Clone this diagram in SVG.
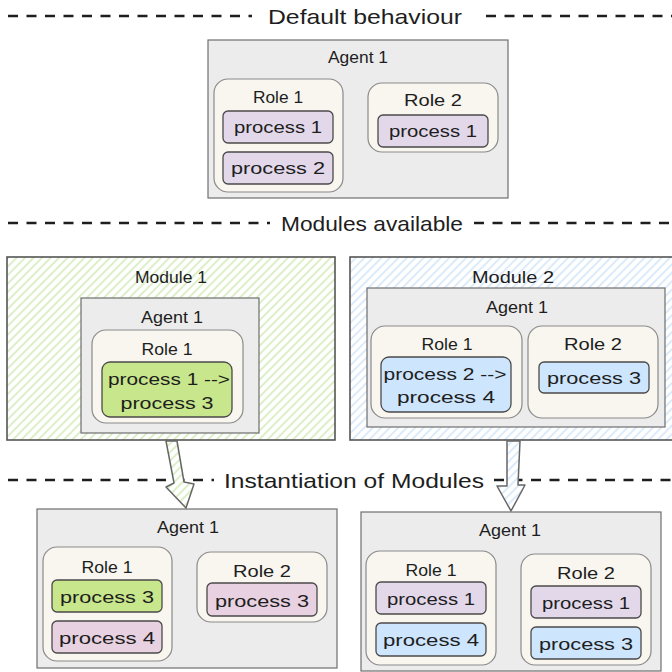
<svg xmlns="http://www.w3.org/2000/svg" width="672" height="672" viewBox="0 0 672 672">
  <defs>
    <pattern id="hatchGreen" patternUnits="userSpaceOnUse" width="6" height="6" patternTransform="rotate(45)">
      <rect width="6" height="6" fill="#ffffff"/>
      <line x1="2" y1="0" x2="2" y2="6" stroke="#dcefc8" stroke-width="2"/>
    </pattern>
    <pattern id="hatchBlue" patternUnits="userSpaceOnUse" width="6" height="6" patternTransform="rotate(45)">
      <rect width="6" height="6" fill="#ffffff"/>
      <line x1="2" y1="0" x2="2" y2="6" stroke="#dcebfa" stroke-width="2"/>
    </pattern>
  </defs>
  <style>
    text { font-family: "Liberation Sans", "Noto Sans", sans-serif; fill: #1e1e1e; text-anchor: middle; dominant-baseline: central; }
    .title { font-size: 21px; }
    .lbl { font-size: 17px; }
    .proc { font-size: 17px; }
    .divider { stroke: #1e1e1e; stroke-width: 2.5; stroke-dasharray: 10 8.5; fill: none; }
    .module { stroke: #555555; stroke-width: 1.6; }
    .agent { fill: #ececec; stroke: #6f6f6f; stroke-width: 1.2; }
    .role { fill: #f8f6ef; stroke: #8a8a8a; stroke-width: 1.2; }
    .p { stroke: #4a4a4a; stroke-width: 1.3; }
    .lav { fill: #e2d8ea; }
    .pink { fill: #e8d1e0; }
    .green { fill: #c8e68c; }
    .blue { fill: #cde5fd; }
    .arrow { stroke: #666666; stroke-width: 1.5; stroke-linejoin: round; }
  </style>
  <rect width="672" height="672" fill="#ffffff"/>

  <g id="dividers">
    <line class="divider" x1="8" y1="16" x2="252" y2="16"/>
    <line class="divider" x1="486" y1="16" x2="672" y2="16"/>
    <text class="title" x="365" y="16" textLength="194" lengthAdjust="spacingAndGlyphs">Default behaviour</text>
    <line class="divider" x1="8" y1="223" x2="270" y2="223"/>
    <line class="divider" x1="474" y1="223" x2="672" y2="223"/>
    <text class="title" x="372" y="223" textLength="182" lengthAdjust="spacingAndGlyphs">Modules available</text>
    <line class="divider" x1="8" y1="480" x2="214" y2="480"/>
    <line class="divider" x1="494" y1="480" x2="672" y2="480"/>
    <text class="title" x="354" y="480" textLength="260" lengthAdjust="spacingAndGlyphs">Instantiation of Modules</text>
  </g>

  <!-- Default behaviour -->
  <g id="default-agent1">
    <rect class="agent" x="208" y="40" width="300" height="158"/>
    <text class="lbl" x="358" y="57" textLength="60" lengthAdjust="spacingAndGlyphs">Agent 1</text>
  </g>
  <g id="default-role1">
    <rect class="role" x="214" y="79" width="129" height="113" rx="14"/>
    <text class="lbl" x="278" y="97" textLength="50" lengthAdjust="spacingAndGlyphs">Role 1</text>
  </g>
  <g id="default-role1-process1">
    <rect class="p lav" x="223" y="111" width="110" height="32" rx="5"/>
    <text class="proc" x="278" y="127" textLength="88" lengthAdjust="spacingAndGlyphs">process 1</text>
  </g>
  <g id="default-role1-process2">
    <rect class="p lav" x="223" y="152" width="110" height="32" rx="5"/>
    <text class="proc" x="278" y="168" textLength="94" lengthAdjust="spacingAndGlyphs">process 2</text>
  </g>
  <g id="default-role2">
    <rect class="role" x="368" y="83" width="130" height="69" rx="14"/>
    <text class="lbl" x="433" y="100" textLength="58" lengthAdjust="spacingAndGlyphs">Role 2</text>
  </g>
  <g id="default-role2-process1">
    <rect class="p lav" x="378" y="115" width="110" height="32" rx="5"/>
    <text class="proc" x="433" y="131" textLength="88" lengthAdjust="spacingAndGlyphs">process 1</text>
  </g>

  <!-- Module 1 -->
  <g id="module1">
    <rect class="module" x="7" y="257" width="328" height="183" fill="url(#hatchGreen)"/>
    <text class="lbl" x="171" y="277" textLength="72" lengthAdjust="spacingAndGlyphs">Module 1</text>
  </g>
  <g id="module1-agent1">
    <rect class="agent" x="81" y="298" width="178" height="135"/>
    <text class="lbl" x="172" y="317" textLength="62" lengthAdjust="spacingAndGlyphs">Agent 1</text>
  </g>
  <g id="module1-role1">
    <rect class="role" x="92" y="330" width="151" height="93" rx="14"/>
    <text class="lbl" x="167" y="349" textLength="51" lengthAdjust="spacingAndGlyphs">Role 1</text>
  </g>
  <g id="module1-process">
    <rect class="p green" x="102" y="362" width="130" height="55" rx="8"/>
    <text class="proc" x="169" y="379" textLength="122" lengthAdjust="spacingAndGlyphs">process 1 --&gt;</text>
    <text class="proc" x="167" y="403" textLength="93" lengthAdjust="spacingAndGlyphs">process 3</text>
  </g>

  <!-- Module 2 -->
  <g id="module2">
    <rect class="module" x="350" y="257" width="335" height="183" fill="url(#hatchBlue)"/>
    <text class="lbl" x="513" y="277" textLength="82" lengthAdjust="spacingAndGlyphs">Module 2</text>
  </g>
  <g id="module2-agent1">
    <rect class="agent" x="367" y="288" width="298" height="139"/>
    <text class="lbl" x="517" y="307" textLength="62" lengthAdjust="spacingAndGlyphs">Agent 1</text>
  </g>
  <g id="module2-role1">
    <rect class="role" x="371" y="326" width="151" height="92" rx="14"/>
    <text class="lbl" x="447" y="344" textLength="51" lengthAdjust="spacingAndGlyphs">Role 1</text>
  </g>
  <g id="module2-role1-process">
    <rect class="p blue" x="381" y="357" width="130" height="55" rx="8"/>
    <text class="proc" x="445" y="374" textLength="123" lengthAdjust="spacingAndGlyphs">process 2 --&gt;</text>
    <text class="proc" x="446" y="397" textLength="98" lengthAdjust="spacingAndGlyphs">process 4</text>
  </g>
  <g id="module2-role2">
    <rect class="role" x="528" y="326" width="130" height="92" rx="14"/>
    <text class="lbl" x="593" y="344" textLength="58" lengthAdjust="spacingAndGlyphs">Role 2</text>
  </g>
  <g id="module2-role2-process3">
    <rect class="p blue" x="539" y="362" width="110" height="31" rx="5"/>
    <text class="proc" x="594" y="378" textLength="94" lengthAdjust="spacingAndGlyphs">process 3</text>
  </g>

  <!-- Instantiation left -->
  <g id="inst1-agent1">
    <rect class="agent" x="37" y="509" width="300" height="159"/>
    <text class="lbl" x="188" y="527" textLength="62" lengthAdjust="spacingAndGlyphs">Agent 1</text>
  </g>
  <g id="inst1-role1">
    <rect class="role" x="43" y="547" width="129" height="114" rx="14"/>
    <text class="lbl" x="107" y="567" textLength="51" lengthAdjust="spacingAndGlyphs">Role 1</text>
  </g>
  <g id="inst1-role1-process3">
    <rect class="p green" x="52" y="580" width="110" height="32" rx="5"/>
    <text class="proc" x="107" y="597" textLength="94" lengthAdjust="spacingAndGlyphs">process 3</text>
  </g>
  <g id="inst1-role1-process4">
    <rect class="p pink" x="52" y="621" width="110" height="32" rx="5"/>
    <text class="proc" x="107" y="638" textLength="96" lengthAdjust="spacingAndGlyphs">process 4</text>
  </g>
  <g id="inst1-role2">
    <rect class="role" x="197" y="552" width="130" height="70" rx="14"/>
    <text class="lbl" x="262" y="571" textLength="58" lengthAdjust="spacingAndGlyphs">Role 2</text>
  </g>
  <g id="inst1-role2-process3">
    <rect class="p pink" x="207" y="583" width="110" height="33" rx="5"/>
    <text class="proc" x="262" y="601" textLength="94" lengthAdjust="spacingAndGlyphs">process 3</text>
  </g>

  <!-- Instantiation right -->
  <g id="inst2-agent1">
    <rect class="agent" x="361" y="512" width="300" height="159"/>
    <text class="lbl" x="510" y="530" textLength="62" lengthAdjust="spacingAndGlyphs">Agent 1</text>
  </g>
  <g id="inst2-role1">
    <rect class="role" x="366" y="551" width="130" height="114" rx="14"/>
    <text class="lbl" x="431" y="570" textLength="51" lengthAdjust="spacingAndGlyphs">Role 1</text>
  </g>
  <g id="inst2-role1-process1">
    <rect class="p lav" x="376" y="582" width="110" height="32" rx="5"/>
    <text class="proc" x="431" y="599" textLength="88" lengthAdjust="spacingAndGlyphs">process 1</text>
  </g>
  <g id="inst2-role1-process4">
    <rect class="p blue" x="376" y="623" width="110" height="33" rx="5"/>
    <text class="proc" x="431" y="640" textLength="96" lengthAdjust="spacingAndGlyphs">process 4</text>
  </g>
  <g id="inst2-role2">
    <rect class="role" x="521" y="554" width="130" height="111" rx="14"/>
    <text class="lbl" x="586" y="573" textLength="58" lengthAdjust="spacingAndGlyphs">Role 2</text>
  </g>
  <g id="inst2-role2-process1">
    <rect class="p lav" x="531" y="586" width="110" height="32" rx="5"/>
    <text class="proc" x="586" y="603" textLength="88" lengthAdjust="spacingAndGlyphs">process 1</text>
  </g>
  <g id="inst2-role2-process3">
    <rect class="p blue" x="531" y="627" width="110" height="32" rx="5"/>
    <text class="proc" x="586" y="644" textLength="94" lengthAdjust="spacingAndGlyphs">process 3</text>
  </g>

  <g id="connectors">
    <polygon class="arrow" fill="url(#hatchGreen)" points="166,441 177,441 184,482 194,484 186,508 166,487 174,483"/>
    <polygon class="arrow" fill="url(#hatchBlue)" points="507,441 520,441 518,485 525,485 511,511 497,486 507,486"/>
  </g>
</svg>
